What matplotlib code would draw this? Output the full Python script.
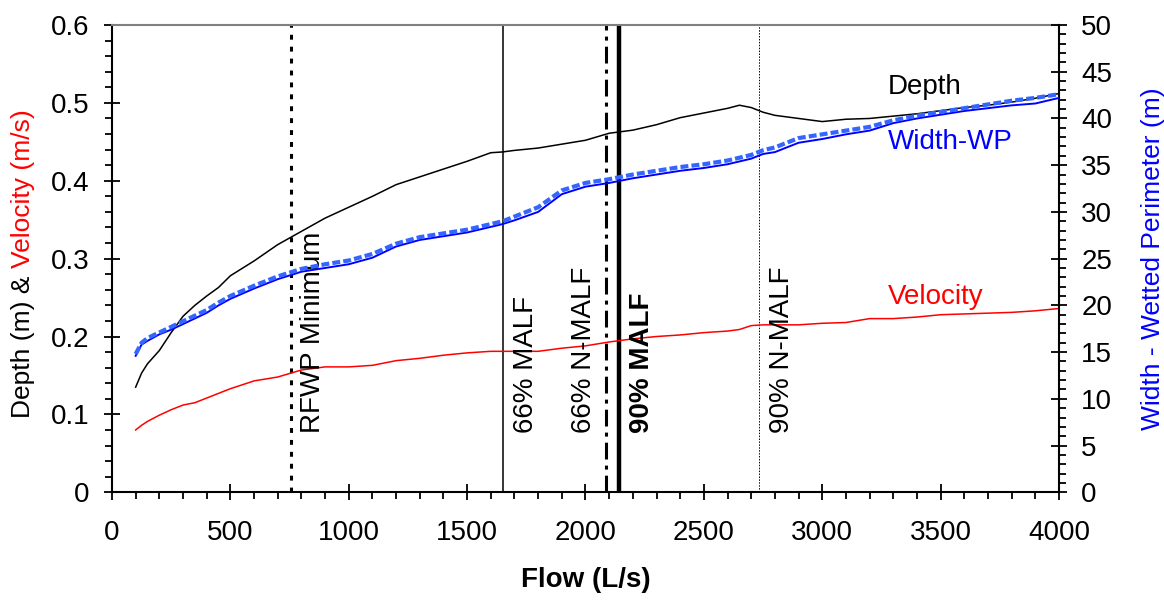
import matplotlib
matplotlib.use("Agg")
import matplotlib.pyplot as plt
from matplotlib.ticker import MultipleLocator, FuncFormatter

plt.rcParams['font.family'] = ['Liberation Sans', 'DejaVu Sans']

# hydraulic rating read at each modelled flow (L/s)
flow = [100, 125, 150, 200, 250, 300, 350, 400, 450, 500, 600, 700, 800, 900,
        1000, 1100, 1200, 1300, 1400, 1500, 1600, 1650, 1700, 1800, 1900, 2000,
        2100, 2200, 2300, 2400, 2500, 2600, 2650, 2700, 2750, 2800, 2900, 3000,
        3100, 3200, 3300, 3400, 3500, 3600, 3700, 3800, 3900, 4000]
depth = [0.135, 0.153, 0.165, 0.182, 0.205, 0.226, 0.240, 0.252, 0.263, 0.278,
         0.297, 0.318, 0.335, 0.352, 0.366, 0.380, 0.395, 0.405, 0.415, 0.425,
         0.436, 0.437, 0.439, 0.442, 0.447, 0.452, 0.461, 0.465, 0.472, 0.481,
         0.487, 0.493, 0.497, 0.494, 0.488, 0.484, 0.480, 0.476, 0.479, 0.480,
         0.483, 0.486, 0.490, 0.494, 0.497, 0.501, 0.506, 0.512]
velocity = [0.080, 0.086, 0.091, 0.099, 0.106, 0.112, 0.115, 0.121, 0.127, 0.133,
            0.143, 0.148, 0.157, 0.161, 0.161, 0.163, 0.169, 0.172, 0.176, 0.179,
            0.181, 0.181, 0.181, 0.181, 0.185, 0.188, 0.193, 0.197, 0.200, 0.202,
            0.205, 0.207, 0.209, 0.214, 0.215, 0.215, 0.215, 0.217, 0.218, 0.223,
            0.223, 0.225, 0.228, 0.229, 0.230, 0.231, 0.233, 0.236]
width = [14.6, 15.8, 16.2, 16.9, 17.4, 18.0, 18.6, 19.2, 20.0, 20.7, 21.8, 22.8,
         23.6, 24.0, 24.4, 25.1, 26.3, 27.0, 27.4, 27.8, 28.4, 28.7, 29.1, 30.0,
         31.9, 32.7, 33.1, 33.6, 34.0, 34.4, 34.7, 35.1, 35.4, 35.7, 36.2, 36.4,
         37.4, 37.8, 38.3, 38.7, 39.5, 40.0, 40.4, 40.8, 41.1, 41.4, 41.6, 42.2]
wetted_perimeter = [14.8, 16.0, 16.5, 17.1, 17.7, 18.3, 18.9, 19.5, 20.3, 21.0,
                    22.1, 23.1, 23.9, 24.4, 24.8, 25.5, 26.6, 27.3, 27.7, 28.1,
                    28.7, 29.0, 29.5, 30.5, 32.3, 33.1, 33.5, 34.0, 34.4, 34.8,
                    35.1, 35.5, 35.8, 36.1, 36.6, 36.9, 37.9, 38.3, 38.7, 39.1,
                    39.8, 40.3, 40.7, 41.1, 41.5, 41.9, 42.2, 42.6]

# reference flows (L/s)
marker_names = ["RFWP Minimum", "66% MALF", "66% N-MALF", "90% MALF", "90% N-MALF"]
marker_flows = [755, 1653, 2088, 2143, 2733]

# line style, text side and weight per reference flow
marker_styles = {
    "RFWP Minimum": dict(lw=2.2, ls=(0, (1.6, 2.3)), side=1, weight="normal"),
    "66% MALF": dict(lw=1.1, ls="-", side=1, weight="normal"),
    "66% N-MALF": dict(lw=2.2, ls=(0, (5.5, 2.0, 1.3, 2.0)), side=-1, weight="normal"),
    "90% MALF": dict(lw=3.2, ls="-", side=1, weight="bold"),
    "90% N-MALF": dict(lw=0.7, ls=(0, (1.5, 1.5)), side=1, weight="normal"),
}

fig = plt.figure(figsize=(11.64, 6.01), dpi=100)
ax = fig.add_axes([0.0962, 0.1809, 0.8136, 0.7775])
ax2 = ax.twinx()

ax.plot(flow, depth, color="black", lw=1.1, zorder=3)
ax.plot(flow, velocity, color="#FF0000", lw=1.1, zorder=3)
ax2.plot(flow, width, color="#0000FF", lw=1.4, zorder=3)
ax2.plot(flow, wetted_perimeter, color="#3366FF", lw=3.0, dashes=(1.9, 0.75), zorder=4)

for name, q in zip(marker_names, marker_flows):
    st = marker_styles[name]
    ax.axvline(q, color="black", lw=st["lw"], linestyle=st["ls"], zorder=2)
    ax.text(q + st["side"] * 95, 0.076, name, rotation=90, ha="center", va="bottom",
            fontsize=20, fontweight=st["weight"])

ax.text(3278, 0.520, "Depth", color="black", fontsize=20, va="center", ha="left")
ax.text(3278, 0.450, "Width-WP", color="#0000FF", fontsize=20, va="center", ha="left")
ax.text(3278, 0.251, "Velocity", color="#FF0000", fontsize=20, va="center", ha="left")

ax.set_xlim(0, 4000)
ax.set_ylim(0, 0.6)
ax2.set_ylim(0, 50)

ax.xaxis.set_major_locator(MultipleLocator(500))
ax.xaxis.set_minor_locator(MultipleLocator(100))
ax.yaxis.set_major_locator(MultipleLocator(0.1))
ax.yaxis.set_minor_locator(MultipleLocator(0.02))
ax.yaxis.set_major_formatter(FuncFormatter(lambda v, p: "{:g}".format(round(v, 2))))
ax2.yaxis.set_major_locator(MultipleLocator(5))
ax2.yaxis.set_minor_locator(MultipleLocator(1))

ax.tick_params(axis="x", which="major", direction="inout", length=12, width=1.3,
               pad=14, labelsize=20)
ax.tick_params(axis="x", which="minor", direction="out", length=5, width=1.3)
ax.tick_params(axis="y", which="major", direction="inout", length=12, width=1.3,
               pad=10, labelsize=20)
ax.tick_params(axis="y", which="minor", direction="out", length=5, width=1.3)
ax2.tick_params(axis="y", which="major", direction="inout", length=12, width=1.3,
                pad=10, labelsize=20)
ax2.tick_params(axis="y", which="minor", direction="out", length=5, width=1.3)

for s in ["bottom", "left"]:
    ax.spines[s].set_linewidth(1.5)
ax.spines["top"].set_color("#808080")
ax.spines["top"].set_linewidth(1.5)
ax.spines["right"].set_visible(False)
for s in ["left", "bottom", "top"]:
    ax2.spines[s].set_visible(False)
ax2.spines["right"].set_linewidth(1.5)

# x axis title
ax.text(0.5, -0.188, "Flow (L/s)", transform=ax.transAxes, ha="center", va="center",
        fontsize=20, fontweight="bold")

# left title in two colours, the red part following on from the black part
t1 = ax.text(-0.094, 0.16, "Depth (m) & ", transform=ax.transAxes, rotation=90,
             ha="center", va="bottom", fontsize=19, color="black")
ax.annotate("Velocity (m/s)", xy=(0.5, 1.0), xycoords=t1, rotation=90,
            ha="center", va="bottom", fontsize=19, color="#FF0000")

ax2.set_ylabel("Width - Wetted Perimeter (m)", color="#0000FF", fontsize=19)
ax2.yaxis.set_label_coords(1.0866, 0.5)

fig.savefig("out.png", dpi=100)
